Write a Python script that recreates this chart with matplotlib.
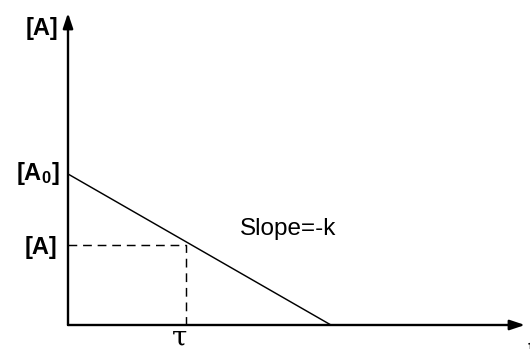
import matplotlib
matplotlib.use("Agg")
import matplotlib.pyplot as plt

plt.rcParams['font.family'] = ['Liberation Sans', 'DejaVu Sans']
plt.rcParams['mathtext.fontset'] = 'custom'
plt.rcParams['mathtext.rm'] = 'Liberation Sans'
plt.rcParams['mathtext.bf'] = 'Liberation Sans:bold'
plt.rcParams['mathtext.it'] = 'Liberation Sans:italic'

# data
t_line = [0.0, 1.0]        # time: start, concentration reaches zero
A_line = [1.0, 0.0]        # [A0] -> 0
tau = 0.45                 # marked time
A_tau = 0.53               # marked concentration (dashed level)
t_max = 1.738              # end of time axis
A_max = 2.066              # end of concentration axis
slope_label = "Slope=-k"
y_label = "[A]"
A0_label = r"$\mathbf{[A_0]}$"
A_label = "[A]"
tau_label = "τ"
x_label = "t"

fig = plt.figure(figsize=(5.30, 3.49), dpi=100)
ax = fig.add_axes([68/530, 24/349, 457/530, 312/349])
ax.set_xlim(0, t_max)
ax.set_ylim(0, A_max)
ax.axis('off')

arrow_kw = dict(arrowstyle='-|>,head_length=0.9,head_width=0.3', lw=1.7,
                color='black', shrinkA=0, shrinkB=0)
ax.annotate('', xy=(t_max, 0), xytext=(0, 0), arrowprops=arrow_kw,
            annotation_clip=False)
ax.annotate('', xy=(0, A_max), xytext=(0, 0), arrowprops=arrow_kw,
            annotation_clip=False)

ax.plot(t_line, A_line, color='black', lw=1.05, clip_on=False,
        solid_capstyle='butt')
ax.plot([0, tau, tau], [A_tau, A_tau, 0], color='black', lw=1.05,
        dashes=(6, 4), clip_on=False)

ax.text(0.654, 0.596, slope_label, fontsize=17.5, ha='left',
        va='baseline')

lab_kw = dict(fontsize=17, fontweight='bold', ha='right', va='center',
              textcoords='offset points', annotation_clip=False)
ax.annotate(y_label, xy=(0, A_max), xytext=(-7, -11), **lab_kw)
ax.annotate(A0_label, xy=(0, A_line[0]), xytext=(-6, 0), **lab_kw)
ax.annotate(A_label, xy=(0, A_tau), xytext=(-8, -2), **lab_kw)
ax.annotate(tau_label, xy=(tau, 0), xytext=(-5, -15), fontsize=20,
            family='DejaVu Serif', ha='center', va='baseline',
            textcoords='offset points', annotation_clip=False)
ax.annotate(x_label, xy=(t_max, 0), xytext=(2, -10), fontsize=17,
            ha='left', va='top', textcoords='offset points',
            annotation_clip=False)

fig.savefig('out.png', dpi=100)
